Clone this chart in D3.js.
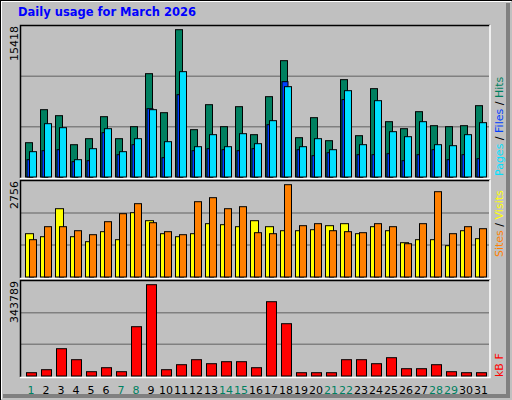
<!DOCTYPE html>
<html>
<head>
<meta charset="utf-8">
<script src="https://cdn.jsdelivr.net/npm/d3@7"></script>
<style>
  body { margin: 0; background: #fff; }
  text { font-family: "DejaVu Sans", sans-serif; }
</style>
</head>
<body>
<svg id="chart"></svg>
<script>
const days = d3.range(1, 32);
const weekendDays = [1, 7, 8, 14, 15, 21, 22, 28, 29];

const hits   = [3590,7045,6418,3380,4010,6313,4010,5266,10815,6732,15418,4952,7569,5266,7360,4430,8407,12176,4114,6209,3800,10187,4323,9245,5790,5057,6836,5371,5266,5371,7465];
const files  = [1812,2753,2858,1602,1707,4638,2335,3382,7150,2020,8616,2753,2963,2858,2753,2963,5475,9978,2858,2230,2544,8101,2335,2335,2440,1707,2335,2858,1812,2335,1916];
const pages  = [2650,5580,5162,1812,2963,5057,2650,4010,7046,3696,11025,3172,4430,3172,4534,3486,5895,9454,3172,4010,2858,9034,3382,7988,4743,4219,5790,3382,3277,4430,5685];
const sites  = [1293,1203,2039,1203,1054,1353,1114,1920,1681,1293,1203,1293,1592,1562,1502,1681,1502,1382,1382,1412,1532,1592,1293,1502,1382,1024,1114,1114,935,1382,1144];
const visits = [1114,1502,1502,1382,1263,1651,1890,2189,1621,1353,1263,2248,2368,2039,2099,1323,1293,2756,1532,1592,1382,1353,1323,1592,1502,994,1592,2547,1293,1502,1442];
const kbytes = [12425,23720,102785,61370,16190,31250,16190,185615,343789,23720,42545,61370,46310,53840,53840,31250,279740,196910,12425,12425,12425,61370,61370,46310,68900,27485,27485,42545,16190,12425,12425];

const W = 512, H = 400;
const svg = d3.select("#chart").attr("width", W).attr("height", H);

// background + 3d frame
svg.append("rect").attr("width", W).attr("height", H).attr("fill", "#c0c0c0");
svg.append("path").attr("d", "M1,399 V1 H511").attr("stroke", "#fff").attr("stroke-width", 2).attr("fill", "none");
svg.append("path").attr("d", "M0,0.5 H512 M0.5,0 V400").attr("stroke", "#000").attr("fill", "none");
svg.append("path").attr("d", "M508,3 V396 H3").attr("stroke", "#808080").attr("stroke-width", 4).attr("fill", "none");

svg.append("text").attr("x", 18).attr("y", 16)
  .attr("font-family", "DejaVu Sans Mono").attr("font-weight", "bold").attr("font-size", 11.5)
  .attr("fill", "#0000ff").text("Daily usage for March 2026");

const x = d3.scaleBand().domain(days).range([20, 485]).paddingInner(0);

function panel(top, bottom, max, maxH) {
  const g = svg.append("g");
  g.append("rect").attr("x", 20).attr("y", top).attr("width", 470).attr("height", bottom - top + 1)
    .attr("fill", "#c0c0c0");
  const full = maxH * 1.0;
  const y = d3.scaleLinear().domain([0, max]).range([bottom, bottom - maxH]);
  const span = bottom - top - 1;
  [1, 2].forEach(k => {
    g.append("line").attr("x1", 21).attr("x2", 489)
      .attr("y1", bottom - span * k / 3).attr("y2", bottom - span * k / 3)
      .attr("stroke", "#808080").attr("stroke-width", 1.5);
  });
  g.append("path").attr("d", `M20.5,${bottom + 1} V${top + 0.5} H490`).attr("stroke", "#000").attr("fill", "none").attr("stroke-width", 1.5);
  g.append("path").attr("d", `M490,${top} V${bottom + 1.5} H20`).attr("stroke", "#fff").attr("fill", "none").attr("stroke-width", 1.5);
  g.append("text").attr("transform", `translate(18,${top + 1}) rotate(-90)`)
    .attr("text-anchor", "end").attr("font-size", 11).attr("fill", "#000").text(max);
  return { g, y, bottom };
}

function bars(p, values, color, dx, w) {
  p.g.selectAll(null).data(values).enter().append("rect")
    .attr("x", (d, i) => x(days[i]) + dx + 0.5)
    .attr("y", d => p.y(d))
    .attr("width", w)
    .attr("height", d => p.bottom - p.y(d))
    .attr("fill", color).attr("stroke", "#000").attr("stroke-width", 1);
}

const p1 = panel(25, 177, 15418, 147.3);
bars(p1, hits, "#008060", 5, 7);
bars(p1, files, "#0040ff", 6.5, 6);
bars(p1, pages, "#00e0ff", 9, 7);

const p2 = panel(180, 277, 2756, 92.3);
bars(p2, sites, "#ffff00", 5, 8);
bars(p2, visits, "#ff8000", 9, 7);

const p3 = panel(280, 376, 343789, 91.3);
bars(p3, kbytes, "#ff0000", 6, 10);

// day labels
svg.selectAll(null).data(days).enter().append("text")
  .attr("x", d => x(d) + 11).attr("y", 394)
  .attr("text-anchor", "middle").attr("font-size", 11)
  .attr("fill", d => weekendDays.includes(d) ? "#008060" : "#000")
  .text(d => d);

// right side legends
function legend(yBottom, parts) {
  const t = svg.append("text").attr("transform", `translate(503,${yBottom}) rotate(-90)`)
    .attr("font-family", "DejaVu Sans Mono").attr("font-size", 11);
  parts.forEach(([s, c]) => t.append("tspan").attr("fill", c).text(s));
}
legend(176, [["Pages", "#00e0ff"], [" / ", "#000"], ["Files", "#0040ff"], [" / ", "#000"], ["Hits", "#008060"]]);
legend(257, [["Sites", "#ff8000"], [" / ", "#000"], ["Visits", "#ffff00"]]);
legend(377, [["kB F", "#ff0000"]]);
</script>
</body>
</html>
